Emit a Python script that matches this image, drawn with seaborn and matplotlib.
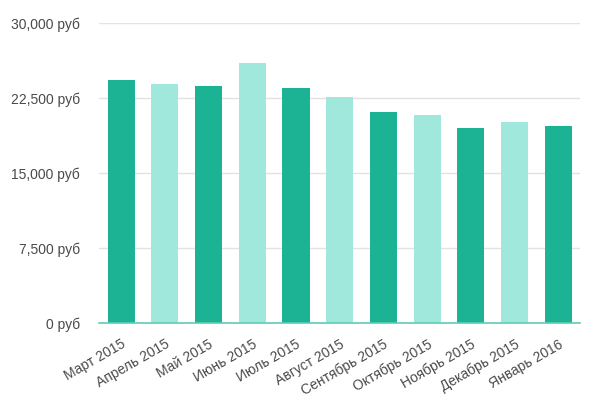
import matplotlib
matplotlib.use("Agg")
import matplotlib.pyplot as plt
import seaborn as sns
import pandas as pd
from matplotlib.ticker import FuncFormatter, FixedLocator

months = ["Март 2015", "Апрель 2015", "Май 2015", "Июнь 2015", "Июль 2015",
          "Август 2015", "Сентябрь 2015", "Октябрь 2015", "Ноябрь 2015",
          "Декабрь 2015", "Январь 2016"]
values = [24330, 23970, 23770, 26070, 23530, 22630, 21160, 20830, 19500, 20160, 19760]
yticks = [0, 7500, 15000, 22500, 30000]

dark = "#1cb394"
light = "#a0e8dc"
palette = [dark if i % 2 == 0 else light for i in range(len(months))]

sns.set_theme(style="white")
plt.rcParams['font.family'] = ['Liberation Sans', 'DejaVu Sans']

df = pd.DataFrame({"month": months, "value": values})

fig = plt.figure(figsize=(6.0, 4.09), dpi=100)
ax = fig.add_axes([0.1655, 0.2095, 0.8012, 0.7335])
sns.barplot(data=df, x="month", y="value", hue="month", palette=palette,
            legend=False, width=0.62, saturation=1, ax=ax, edgecolor="none")

ax.set_ylim(0, 30000)
ax.set_xlim(-0.5, len(months) - 0.5)
ax.yaxis.set_major_locator(FixedLocator(yticks))
ax.yaxis.set_major_formatter(FuncFormatter(lambda v, p: f"{int(v):,} руб"))
ax.grid(axis="y", color="#e3e3e3", linewidth=1)
ax.set_axisbelow(True)
for s in ["top", "right", "left"]:
    ax.spines[s].set_visible(False)
ax.spines["bottom"].set_color("#5fcdb6")
ax.spines["bottom"].set_linewidth(1.2)
ax.tick_params(axis="both", length=0, labelsize=10, labelcolor="#4a4a4a")
ax.tick_params(axis="y", pad=14)
ax.tick_params(axis="x", pad=10)
ax.set_xlabel("")
ax.set_ylabel("")
for lbl in ax.get_xticklabels():
    lbl.set_rotation(30)
    lbl.set_ha("right")
    lbl.set_rotation_mode("anchor")

fig.savefig("out.png", dpi=100)
